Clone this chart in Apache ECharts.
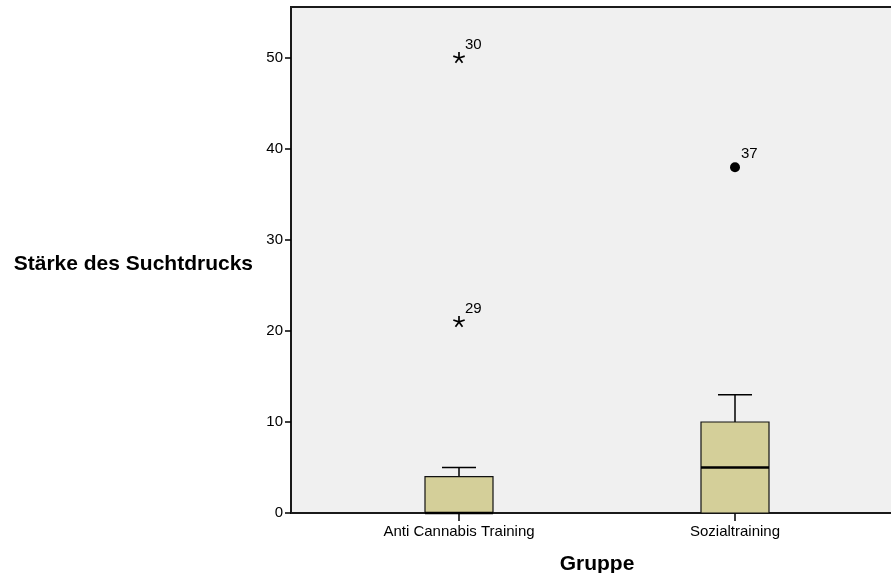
<!DOCTYPE html>
<html>
<head>
<meta charset="utf-8">
<script src="https://cdn.jsdelivr.net/npm/echarts@6/dist/echarts.min.js"></script>
<style>
  html, body { margin: 0; padding: 0; background: #fff; }
  #boxChart { width: 891px; height: 573px; }
</style>
</head>
<body>
<div id="boxChart"></div>
<script>
  // Gruppen und Boxplot-Kennwerte [min, Q1, Median, Q3, max]
  var groups = ['Anti Cannabis Training', 'Sozialtraining']
  var boxStats = [
    [0, 0, 0, 4, 5],
    [0, 0, 5, 10, 13]
  ]
  // Ausreisser: Gruppe, Wert, Fallnummer, extrem (Stern) oder nicht (Punkt)
  var outGroup = [0, 0, 1]
  var outValue = [50, 21, 38]
  var outCase = ['30', '29', '37']
  var outExtreme = [true, true, false]
  var yTicks = [0, 10, 20, 30, 40, 50]

  var fontFam = 'Arial, "Liberation Sans", sans-serif'

  var boxData = []
  for (var i = 0; i < groups.length; i++) {
    boxData.push([i].concat(boxStats[i]))
  }
  var outData = []
  for (var j = 0; j < outValue.length; j++) {
    outData.push([outGroup[j], outValue[j], outCase[j], outExtreme[j] ? 1 : 0])
  }

  function renderBox(params, api) {
    var x = api.value(0)
    var bandW = api.size([1, 0])[0]
    var boxW = bandW * 0.2464
    var capW = boxW / 2
    var pMin = api.coord([x, api.value(1)])
    var pQ1 = api.coord([x, api.value(2)])
    var pMed = api.coord([x, api.value(3)])
    var pQ3 = api.coord([x, api.value(4)])
    var pMax = api.coord([x, api.value(5)])
    var cx = pMed[0]
    var line = { stroke: '#000', lineWidth: 1.5 }
    return {
      type: 'group',
      children: [
        { type: 'line', shape: { x1: cx, y1: pQ3[1], x2: cx, y2: pMax[1] }, style: line },
        { type: 'line', shape: { x1: cx - capW / 2, y1: pMax[1], x2: cx + capW / 2, y2: pMax[1] }, style: line },
        { type: 'line', shape: { x1: cx, y1: pQ1[1], x2: cx, y2: pMin[1] }, style: line },
        { type: 'rect', shape: { x: cx - boxW / 2, y: pQ3[1], width: boxW, height: pQ1[1] - pQ3[1] },
          style: { fill: '#d4cf99', stroke: '#111', lineWidth: 1.2 } },
        { type: 'line', shape: { x1: cx - boxW / 2, y1: pMed[1], x2: cx + boxW / 2, y2: pMed[1] },
          style: { stroke: '#000', lineWidth: 2.5 } }
      ]
    }
  }

  function renderOutlier(params, api) {
    var p = api.coord([api.value(0), api.value(1)])
    var kids = []
    if (api.value(3) === 1) {
      var r = 6
      for (var k = 0; k < 5; k++) {
        var a = (-90 + k * 72) * Math.PI / 180
        kids.push({ type: 'line', shape: { x1: p[0], y1: p[1], x2: p[0] + r * Math.cos(a), y2: p[1] + r * Math.sin(a) },
          style: { stroke: '#000', lineWidth: 1.7 } })
      }
    } else {
      kids.push({ type: 'circle', shape: { cx: p[0], cy: p[1], r: 5 }, style: { fill: '#000' } })
    }
    kids.push({ type: 'text', x: p[0] + 6, y: p[1] - 13,
      style: { text: api.value(2), fill: '#000', font: '15px ' + fontFam, textVerticalAlign: 'middle' } })
    return { type: 'group', children: kids }
  }

  var option = {
    animation: false,
    grid: [
      { left: 291, right: -3, top: 7, bottom: 60, outerBoundsMode: 'none', show: true,
        backgroundColor: '#f0f0f0', borderColor: '#1a1a1a', borderWidth: 2 },
      { left: 321, right: 18, top: 7, bottom: 60, outerBoundsMode: 'none' }
    ],
    xAxis: [
      { gridIndex: 0, type: 'value', min: 0, max: 1, axisLine: { show: false }, axisTick: { show: false },
        axisLabel: { show: false }, splitLine: { show: false } },
      { gridIndex: 1, type: 'category', data: groups,
        name: 'Gruppe', nameLocation: 'middle', nameGap: 41,
        nameTextStyle: { fontFamily: fontFam, fontSize: 21, fontWeight: 'bold', color: '#000' },
        axisLine: { show: false },
        axisTick: { show: true, alignWithLabel: true, length: 8, lineStyle: { color: '#000', width: 1.5 } },
        axisLabel: { fontFamily: fontFam, fontSize: 15, color: '#000', margin: 11 } }
    ],
    yAxis: [
      { gridIndex: 0, type: 'value', min: 0, max: 55.6, interval: 10,
        name: 'Stärke des Suchtdrucks', nameLocation: 'middle', nameRotate: 0, nameGap: 38,
        nameTextStyle: { fontFamily: fontFam, fontSize: 21, fontWeight: 'bold', color: '#000',
          verticalAlign: 'top', lineHeight: 8 },
        axisLine: { show: false },
        axisTick: { show: true, length: 6, customValues: yTicks, lineStyle: { color: '#000', width: 1.5 } },
        axisLabel: { fontFamily: fontFam, fontSize: 15, color: '#000', margin: 8, customValues: yTicks },
        splitLine: { show: false } },
      { gridIndex: 1, type: 'value', min: 0, max: 55.6, interval: 10, show: false, splitLine: { show: false } }
    ],
    series: [
      { type: 'custom', xAxisIndex: 1, yAxisIndex: 1, renderItem: renderBox, data: boxData, z: 3 },
      { type: 'custom', xAxisIndex: 1, yAxisIndex: 1, renderItem: renderOutlier, data: outData, z: 4 }
    ]
  }

  var chart = echarts.init(document.getElementById('boxChart'))
  chart.setOption(option)
</script>
</body>
</html>
